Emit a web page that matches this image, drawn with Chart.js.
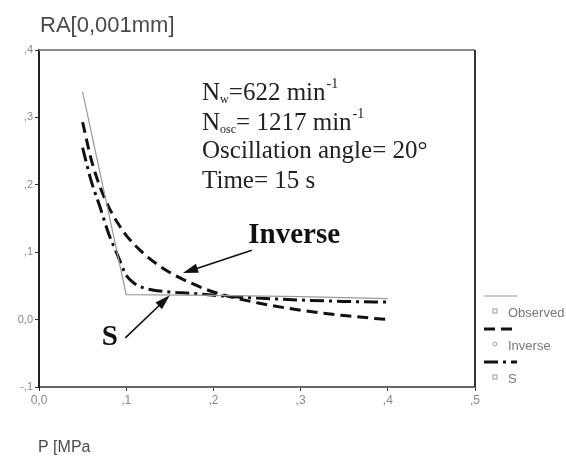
<!DOCTYPE html>
<html>
<head>
<meta charset="utf-8">
<script src="https://cdn.jsdelivr.net/npm/chart.js@4/dist/chart.umd.min.js"></script>
<style>
  html, body { margin: 0; padding: 0; background: #fff; }
  #wrap { width: 566px; height: 457px; position: relative; }
</style>
</head>
<body>
<div id="wrap"><canvas id="c"></canvas></div>
<script>
// значения
const xTicks = [0, 0.1, 0.2, 0.3, 0.4, 0.5];
const yTicks = [-0.1, 0, 0.1, 0.2, 0.3, 0.4];

const observedX = [0.05, 0.1, 0.2, 0.3, 0.4];
const observedY = [0.338, 0.037, 0.036, 0.034, 0.031];

const inverseX = [0.05, 0.06, 0.07, 0.08, 0.09, 0.10, 0.12, 0.14, 0.16, 0.18, 0.20, 0.25, 0.30, 0.35, 0.40];
const inverseY = [0.293, 0.237, 0.197, 0.167, 0.144, 0.125, 0.098, 0.078, 0.063, 0.051, 0.041, 0.025, 0.014, 0.006, 0.0];

const sX = [0.05, 0.06, 0.07, 0.08, 0.09, 0.10, 0.11, 0.12, 0.13, 0.15, 0.175, 0.20, 0.25, 0.30, 0.35, 0.40];
const sY = [0.255, 0.205, 0.167, 0.127, 0.096, 0.066, 0.053, 0.047, 0.044, 0.041, 0.039, 0.036, 0.032, 0.029, 0.027, 0.026];

const toPts = (xs, ys) => xs.map((x, i) => ({ x: x, y: ys[i] }));

function fmt(v) {
    const r = Math.round(v * 10);
    if (r === 0) return '0,0';
    return (r < 0 ? '-' : '') + ',' + Math.abs(r);
}

const serif = '"Liberation Serif", "Times New Roman", serif';
const sans = '"Liberation Sans", Arial, sans-serif';

// подписи, стрелки, рамка и легенда
const extras = {
    id: 'extras',
    afterDraw(chart) {
        const ctx = chart.ctx;
        const xs = chart.scales.x, ys = chart.scales.y;
        const a = chart.chartArea;
        const px = v => xs.getPixelForValue(v);
        const py = v => ys.getPixelForValue(v);
        ctx.save();

        // верх и правая сторона рамки
        ctx.lineWidth = 2;
        ctx.strokeStyle = '#8a8a8a';
        ctx.beginPath();
        ctx.moveTo(a.left, a.top);
        ctx.lineTo(a.right, a.top);
        ctx.stroke();
        ctx.strokeStyle = '#333';
        ctx.beginPath();
        ctx.moveTo(a.right, a.top);
        ctx.lineTo(a.right, a.bottom);
        ctx.stroke();

        // заголовки осей
        ctx.fillStyle = '#4a4a4a';
        ctx.font = '22px ' + sans;
        ctx.textBaseline = 'alphabetic';
        ctx.fillText('RA[0,001mm]', 40, 32);
        ctx.font = '16px ' + sans;
        ctx.fillText('P [MPa', 38, 452);

        // текст с параметрами
        ctx.fillStyle = '#222';
        const x0 = px(0.187);
        function sub(main, s, rest, sup, y) {
            let x = x0;
            ctx.font = '25px ' + serif;
            ctx.fillText(main, x, y); x += ctx.measureText(main).width;
            ctx.font = '12px ' + serif;
            ctx.fillText(s, x, y + 3); x += ctx.measureText(s).width;
            ctx.font = '25px ' + serif;
            ctx.fillText(rest, x, y); x += ctx.measureText(rest).width;
            ctx.font = '14px ' + serif;
            ctx.fillText(sup, x + 1, y - 12);
        }
        sub('N', 'w', '=622 min', '-1', py(0.326));
        sub('N', 'osc', '= 1217 min', '-1', py(0.281));
        ctx.font = '25px ' + serif;
        ctx.fillText('Oscillation angle= 20°', x0, py(0.240));
        ctx.fillText('Time= 15 s', x0, py(0.195));

        // Inverse и S
        ctx.font = 'bold 29px ' + serif;
        ctx.fillStyle = '#111';
        ctx.fillText('Inverse', px(0.240), py(0.114));
        ctx.fillText('S', px(0.072), py(-0.038));

        function arrow(xa, ya, xb, yb) {
            const x1 = px(xa), y1 = py(ya), x2 = px(xb), y2 = py(yb);
            const ang = Math.atan2(y2 - y1, x2 - x1);
            ctx.strokeStyle = '#111';
            ctx.lineWidth = 1.6;
            ctx.beginPath();
            ctx.moveTo(x1, y1);
            ctx.lineTo(x2 - 10 * Math.cos(ang), y2 - 10 * Math.sin(ang));
            ctx.stroke();
            ctx.fillStyle = '#111';
            ctx.beginPath();
            ctx.moveTo(x2, y2);
            ctx.lineTo(x2 - 16 * Math.cos(ang - 0.3), y2 - 16 * Math.sin(ang - 0.3));
            ctx.lineTo(x2 - 16 * Math.cos(ang + 0.3), y2 - 16 * Math.sin(ang + 0.3));
            ctx.closePath();
            ctx.fill();
        }
        arrow(0.244, 0.103, 0.165, 0.069);
        arrow(0.099, -0.027, 0.150, 0.036);

        // легенда
        const lx = 484;
        ctx.font = '13px ' + sans;
        ctx.textBaseline = 'middle';
        chart.data.datasets.forEach((ds, i) => {
            const y = 296 + i * 33;
            ctx.strokeStyle = ds.borderColor;
            ctx.lineWidth = ds.borderWidth;
            ctx.setLineDash(ds.borderDash || []);
            ctx.beginPath();
            ctx.moveTo(lx, y);
            ctx.lineTo(lx + 33, y);
            ctx.stroke();
            ctx.setLineDash([]);
            ctx.strokeStyle = '#999';
            ctx.lineWidth = 1;
            if (i === 1) {
                ctx.beginPath();
                ctx.arc(lx + 11, y + 15, 2, 0, Math.PI * 2);
                ctx.stroke();
            } else {
                ctx.strokeRect(lx + 9, y + 13, 4, 4);
            }
            ctx.fillStyle = '#777';
            ctx.fillText(ds.label, lx + 24, y + 17);
        });
        ctx.restore();
    }
};

new Chart(document.getElementById('c'), {
    type: 'scatter',
    data: {
        datasets: [
            {
                label: 'Observed',
                data: toPts(observedX, observedY),
                showLine: true,
                borderColor: '#9a9a9a',
                borderWidth: 1.2,
                pointRadius: 0
            },
            {
                label: 'Inverse',
                data: toPts(inverseX, inverseY),
                showLine: true,
                borderColor: '#111',
                borderWidth: 3,
                borderDash: [11, 6],
                cubicInterpolationMode: 'monotone',
                pointRadius: 0
            },
            {
                label: 'S',
                data: toPts(sX, sY),
                showLine: true,
                borderColor: '#111',
                borderWidth: 3,
                borderDash: [14, 5, 3, 5],
                cubicInterpolationMode: 'monotone',
                pointRadius: 0
            }
        ]
    },
    options: {
        responsive: true,
        maintainAspectRatio: false,
        animation: false,
        layout: { padding: { left: 0, top: 50, right: 91, bottom: 40 } },
        plugins: { legend: { display: false }, tooltip: { enabled: false } },
        scales: {
            x: {
                type: 'linear',
                min: 0, max: 0.5,
                afterFit: s => { s.height = 30; },
                afterBuildTicks: s => { s.ticks = xTicks.map(v => ({ value: v })); },
                grid: { drawOnChartArea: false, drawTicks: true, tickLength: 4, color: '#333' },
                border: { color: '#666', width: 2 },
                ticks: { color: '#888', font: { size: 12, family: sans }, padding: 2, callback: v => fmt(v) }
            },
            y: {
                min: -0.1, max: 0.4,
                afterFit: s => { s.width = 39; },
                afterBuildTicks: s => { s.ticks = yTicks.map(v => ({ value: v })); },
                grid: { drawOnChartArea: false, drawTicks: true, tickLength: 4, color: '#333' },
                border: { color: '#222', width: 2 },
                ticks: { color: '#888', font: { size: 11, family: sans }, padding: 2, callback: v => fmt(v) }
            }
        }
    },
    plugins: [extras]
});
</script>
</body>
</html>
